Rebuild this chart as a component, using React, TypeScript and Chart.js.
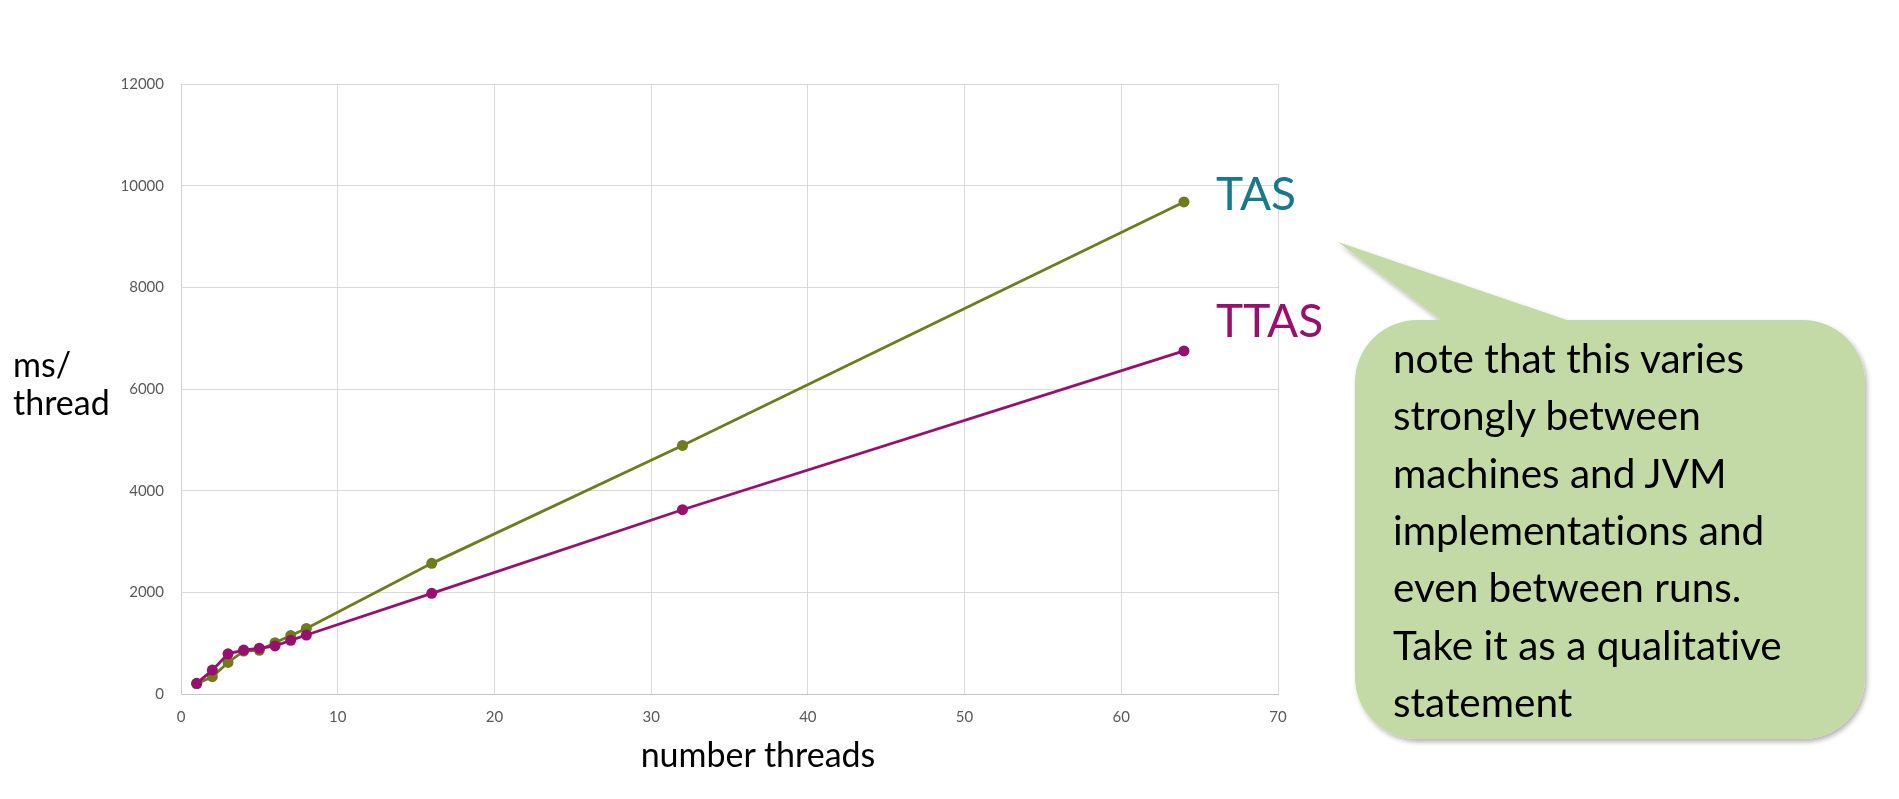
import React, { useEffect, useRef } from "react";
import { Chart, registerables } from "chart.js";

Chart.register(...registerables);

const threads = [1, 2, 3, 4, 5, 6, 7, 8, 16, 32, 64];
const tasValues = [200, 340, 620, 845, 860, 1010, 1150, 1290, 2570, 4890, 9680];
const ttasValues = [210, 470, 790, 865, 900, 945, 1055, 1160, 1980, 3625, 6750];
const xTickMin = 0;
const xTickMax = 70;
const xTickStep = 10;
const yTickMin = 0;
const yTickMax = 12000;
const yTickStep = 2000;

const calloutLines = [
  "note that this varies",
  "strongly between",
  "machines and JVM",
  "implementations and",
  "even between runs.",
  "Take it as a qualitative",
  "statement",
];

const TAS_COLOR = "#6f7b1c";
const TTAS_COLOR = "#990f6f";
const FONT = "Lato, 'Open Sans', sans-serif";

function calloutPath(L: number, T: number, R: number, B: number, r: number, t1: number, tipX: number, tipY: number, t2: number) {
  return [
    `M ${L + r} ${T}`,
    `L ${t1} ${T}`,
    `L ${tipX} ${tipY}`,
    `L ${t2} ${T}`,
    `L ${R - r} ${T}`,
    `A ${r} ${r} 0 0 1 ${R} ${T + r}`,
    `L ${R} ${B - r}`,
    `A ${r} ${r} 0 0 1 ${R - r} ${B}`,
    `L ${L + r} ${B}`,
    `A ${r} ${r} 0 0 1 ${L} ${B - r}`,
    `L ${L} ${T + r}`,
    `A ${r} ${r} 0 0 1 ${L + r} ${T}`,
    "Z",
  ].join(" ");
}

export default function App() {
  const canvasRef = useRef<HTMLCanvasElement | null>(null);

  useEffect(() => {
    document.body.style.margin = "0";
    document.body.style.overflow = "hidden";
    const canvas = canvasRef.current;
    if (!canvas) return;
    const tickFont = { family: FONT, size: 15 };
    const chart = new Chart(canvas, {
      type: "scatter",
      data: {
        datasets: [
          {
            label: "TTAS",
            data: threads.map((x, i) => ({ x, y: ttasValues[i] })),
            showLine: true,
            borderColor: TTAS_COLOR,
            backgroundColor: TTAS_COLOR,
            borderWidth: 2.8,
            pointRadius: 5.5,
            pointHoverRadius: 5.5,
            pointBorderWidth: 0,
            order: 0,
          },
          {
            label: "TAS",
            data: threads.map((x, i) => ({ x, y: tasValues[i] })),
            showLine: true,
            borderColor: TAS_COLOR,
            backgroundColor: TAS_COLOR,
            borderWidth: 2.8,
            pointRadius: 5.5,
            pointHoverRadius: 5.5,
            pointBorderWidth: 0,
            order: 1,
          },
        ],
      },
      options: {
        responsive: false,
        animation: false,
        events: [],
        plugins: { legend: { display: false }, tooltip: { enabled: false } },
        layout: { padding: { left: 100, right: 621, top: 84, bottom: 75 } },
        scales: {
          x: {
            type: "linear",
            min: xTickMin,
            max: xTickMax,
            ticks: {
              stepSize: xTickStep,
              padding: 14,
              color: "#595959",
              font: tickFont,
              callback: (v: any) => String(v),
            },
            grid: { color: "#d9d9d9", drawTicks: false, lineWidth: 1 },
            border: { color: "#c4c4c4", width: 1 },
            afterFit: (s: any) => {
              s.height = 30;
            },
          },
          y: {
            type: "linear",
            min: yTickMin,
            max: yTickMax,
            ticks: {
              stepSize: yTickStep,
              padding: 17,
              color: "#595959",
              font: tickFont,
              callback: (v: any) => String(v),
            },
            grid: { color: "#d9d9d9", drawTicks: false, lineWidth: 1 },
            border: { color: "#d0d0d0", width: 1 },
            afterFit: (s: any) => {
              s.width = 81;
            },
          },
        },
      },
    } as any);
    return () => chart.destroy();
  }, []);

  const L = 1355, T = 320, R = 1865, B = 739;

  return (
    <div style={{ position: "absolute", left: 0, top: 0, width: 1899, height: 799, background: "#fff", overflow: "hidden" }}>
      <canvas ref={canvasRef} width={1899} height={799} style={{ position: "absolute", left: 0, top: 0, width: 1899, height: 799 }} />
      <svg width={1899} height={799} style={{ position: "absolute", left: 0, top: 0, fontVariantLigatures: "none" }}>
        <defs>
          <filter id="shadow" x="-10%" y="-10%" width="130%" height="130%">
            <feDropShadow dx="2" dy="3" stdDeviation="2.5" floodColor="#000" floodOpacity="0.3" />
          </filter>
        </defs>
        <text x={13} y={377} fontFamily={FONT} fontSize={34} fill="#000">ms/</text>
        <text x={13} y={415} fontFamily={FONT} fontSize={34} fill="#000">thread</text>
        <text x={758} y={767} textAnchor="middle" fontFamily={FONT} fontSize={34} fill="#000">number threads</text>
        <text x={1216} y={210} fontFamily={FONT} fontSize={46} fill="#17798f">TAS</text>
        <text x={1216} y={337} fontFamily={FONT} fontSize={46} fill={TTAS_COLOR}>TTAS</text>
        <path d={calloutPath(L, T, R, B, 62, 1441, 1338, 242, 1567)} fill="#c4daa6" filter="url(#shadow)" />
        {calloutLines.map((line, i) => (
          <text key={i} x={1393} y={373 + i * 57.3} fontFamily={FONT} fontSize={40.5} fill="#000">
            {line}
          </text>
        ))}
      </svg>
    </div>
  );
}
